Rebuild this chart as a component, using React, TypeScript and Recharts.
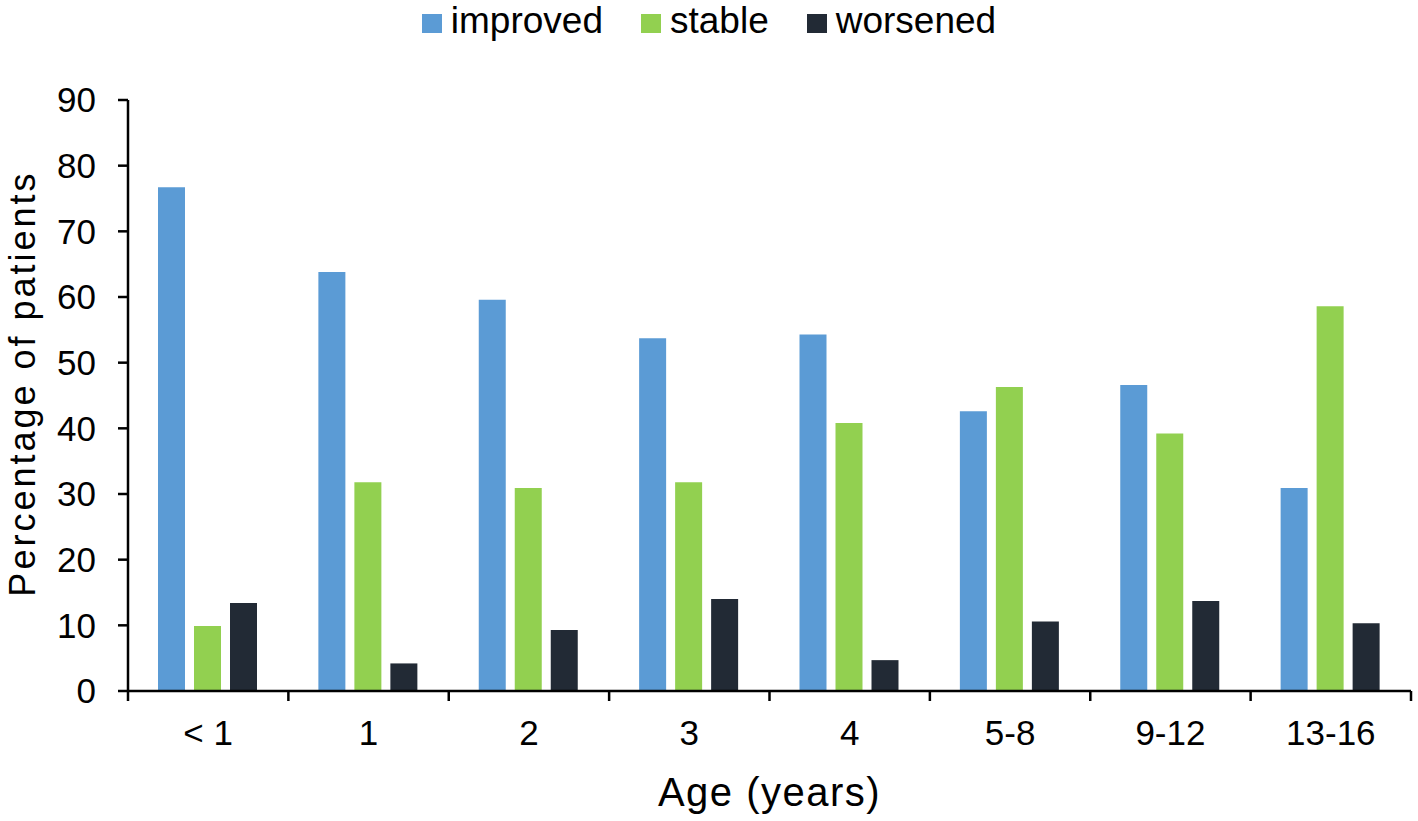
import React from 'react';
import { BarChart, Bar, XAxis, YAxis, Label } from 'recharts';

const categories = ['< 1', '1', '2', '3', '4', '5-8', '9-12', '13-16'];
const improved = [76.7, 63.8, 59.6, 53.7, 54.3, 42.6, 46.6, 30.9];
const stable = [9.9, 31.8, 30.9, 31.8, 40.8, 46.3, 39.2, 58.6];
const worsened = [13.4, 4.2, 9.3, 14.0, 4.7, 10.6, 13.7, 10.3];

const seriesNames = ['improved', 'stable', 'worsened'];
const seriesColors = ['#5B9BD5', '#92D050', '#222A35'];
const yTicks = [0, 10, 20, 30, 40, 50, 60, 70, 80, 90];

const data = categories.map((c, i) => ({
  age: c,
  improved: improved[i],
  stable: stable[i],
  worsened: worsened[i],
}));

const FONT = '"Liberation Sans", Arial, Helvetica, sans-serif';
const TICK_SIZE = 10;
const X_TICK_MARGIN = 19;

const XTick = (props: any) => {
  const { x, y, payload, width, visibleTicksCount, index } = props;
  const bw = width / visibleTicksCount;
  const axisY = y - TICK_SIZE - X_TICK_MARGIN;
  const last = index === visibleTicksCount - 1;
  return (
    <g>
      <line x1={x - bw / 2} x2={x - bw / 2} y1={axisY} y2={axisY + TICK_SIZE} stroke="#000" strokeWidth={2.5} />
      {last && (
        <line x1={x + bw / 2} x2={x + bw / 2} y1={axisY} y2={axisY + TICK_SIZE} stroke="#000" strokeWidth={2.5} />
      )}
      <text x={x} y={y} dy="0.71em" textAnchor="middle" fontSize={35} fontFamily={FONT} fill="#000">
        {payload.value}
      </text>
    </g>
  );
};

export default function App() {
  return (
    <div style={{ position: 'relative', width: 1418, height: 821, background: '#fff', fontFamily: FONT }}>
      <style>{'body{margin:0}'}</style>
      <div
        style={{
          position: 'absolute',
          top: 1,
          left: 0,
          width: 1418,
          display: 'flex',
          justifyContent: 'center',
          alignItems: 'baseline',
          fontSize: 37,
          lineHeight: '40px',
          color: '#000',
          zIndex: 2,
        }}
      >
        {seriesNames.map((n, i) => (
          <div key={n} style={{ display: 'flex', alignItems: 'baseline', marginLeft: i === 0 ? 0 : 38 }}>
            <div style={{ width: 20, height: 19, background: seriesColors[i], marginRight: 9 }} />
            <span>{n}</span>
          </div>
        ))}
      </div>
      <BarChart
        width={1418}
        height={821}
        data={data}
        margin={{ top: 100, right: 7, bottom: 70, left: 0 }}
        barCategoryGap={30}
        barGap={9}
      >
        <XAxis
          dataKey="age"
          height={60}
          tickLine={false}
          tickSize={TICK_SIZE}
          tickMargin={X_TICK_MARGIN}
          axisLine={{ stroke: '#000', strokeWidth: 2.5 }}
          tick={<XTick />}
          interval={0}
        >
          <Label
            content={(p: any) => {
              const vb = p.viewBox;
              return (
                <text
                  x={vb.x + vb.width / 2}
                  y={vb.y + 115}
                  textAnchor="middle"
                  fontSize={40}
                  letterSpacing={1.5}
                  fontFamily={FONT}
                  fill="#000"
                >
                  Age (years)
                </text>
              );
            }}
          />
        </XAxis>
        <YAxis
          width={128}
          domain={[0, 90]}
          ticks={yTicks}
          interval={0}
          tickSize={TICK_SIZE}
          tickMargin={22}
          axisLine={{ stroke: '#000', strokeWidth: 2.5 }}
          tickLine={{ stroke: '#000', strokeWidth: 2.5 }}
          tick={{ fill: '#000', fontSize: 35, fontFamily: FONT }}
        >
          <Label
            content={(p: any) => {
              const vb = p.viewBox;
              const cx = vb.x + 35;
              const cy = vb.y + vb.height / 2 - 12;
              return (
                <text
                  x={cx}
                  y={cy}
                  transform={`rotate(-90, ${cx}, ${cy})`}
                  textAnchor="middle"
                  fontSize={36}
                  letterSpacing={3}
                  fontFamily={FONT}
                  fill="#000"
                >
                  Percentage of patients
                </text>
              );
            }}
          />
        </YAxis>
        {seriesNames.map((n, i) => (
          <Bar key={n} dataKey={n} fill={seriesColors[i]} isAnimationActive={false} />
        ))}
      </BarChart>
    </div>
  );
}
